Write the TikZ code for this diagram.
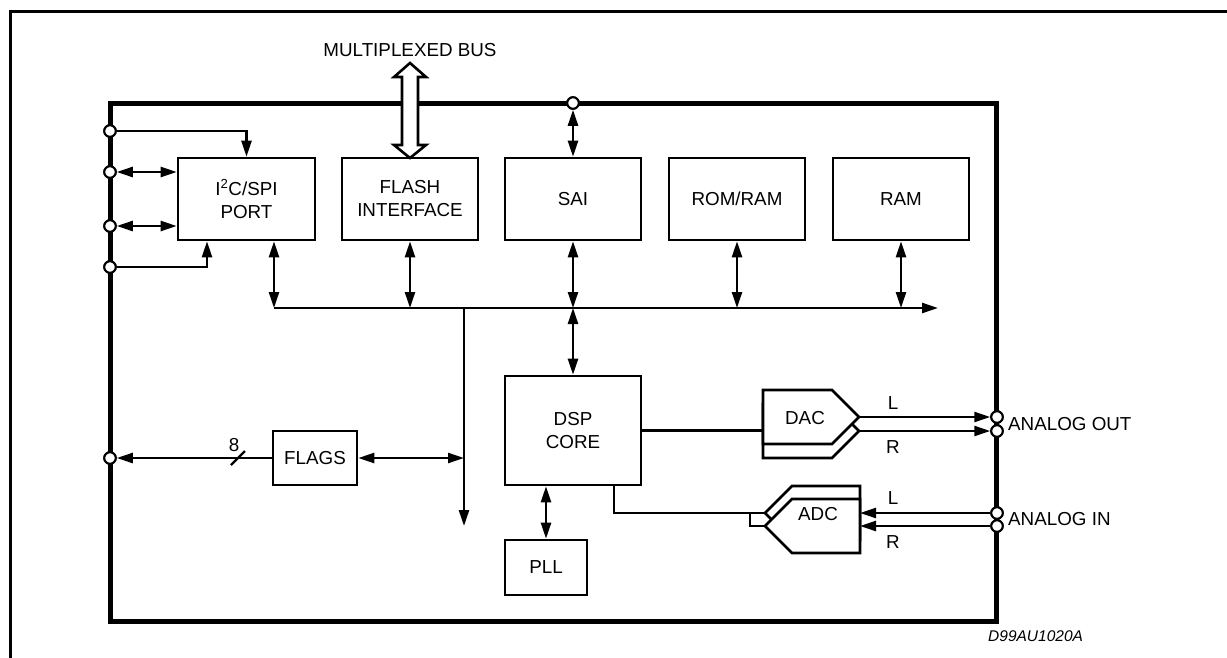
\documentclass[tikz,border=0pt]{standalone}
\usepackage{fontspec}
\setmainfont{Liberation Sans}
\usetikzlibrary{arrows.meta,calc}
\begin{document}
\begin{tikzpicture}[x=1pt,y=-1pt, line join=miter,
  >={Triangle[length=16pt,width=10pt]},
  conn/.style={line width=2.4pt},
  blk/.style={draw, line width=2.6pt, fill=white, align=center, inner sep=0pt, font=\fontsize{18.8}{23}\selectfont},
  shp/.style={draw, line width=2.6pt, fill=white},
  pin/.style={circle, draw, fill=white, line width=2pt, inner sep=0pt, minimum size=11.5pt},
  lbl/.style={font=\fontsize{18.8}{23}\selectfont, inner sep=0pt}]
\useasboundingbox (0,0) rectangle (1227,657);
\clip (0,0) rectangle (1227,657);
% outer frame
\draw[line width=3pt] (10,700) -- (10,11) -- (1300,11);
% chip
\draw[line width=5pt] (110,103) rectangle (996,621);

% blocks
\node[blk, minimum width=137pt, minimum height=82pt] (i2c) at (246.5,199) {I\textsuperscript{2}C/SPI\\PORT};
\node[blk, minimum width=136pt, minimum height=82pt] (flash) at (410,199) {FLASH\\INTERFACE};
\node[blk, minimum width=136pt, minimum height=82pt] (sai) at (573,199) {SAI};
\node[blk, minimum width=136pt, minimum height=82pt] (romram) at (737,199) {ROM/RAM};
\node[blk, minimum width=136pt, minimum height=82pt] (ram) at (901,199) {RAM};
\node[blk, minimum width=136pt, minimum height=109pt] (dsp) at (573,430.5) {DSP\\CORE};
\node[blk, minimum width=82pt, minimum height=55pt] (pll) at (546,567.5) {PLL};
\node[blk, minimum width=84pt, minimum height=54pt] (flags) at (315,458) {FLAGS};

% pins
\node[pin] (p1) at (110,131) {};
\node[pin] (p2) at (110,172) {};
\node[pin] (p3) at (110,226) {};
\node[pin] (p4) at (110,267) {};
\node[pin] (pf) at (110,458) {};
\node[pin] (ps) at (573,103) {};
\node[pin] (aoL) at (997,417) {};
\node[pin] (aoR) at (997,431) {};
\node[pin] (aiL) at (997,513) {};
\node[pin] (aiR) at (997,526) {};

% I2C connections
\draw[conn,->] (p1) -| (i2c.north);
\draw[conn,<->] (p2) -- (p2 -| i2c.west);
\draw[conn,<->] (p3) -- (p3 -| i2c.west);
\draw[conn,->] (p4) -| ([xshift=-39.5pt]i2c.south);

% SAI to top pin
\draw[conn,<->] (ps) -- (sai.north);

% bus
\coordinate (busL) at (274,308);
\coordinate (busR) at (938,308);
\coordinate (busT) at (464,308);
\coordinate (busB) at (464,526);
\draw[conn,->] (busL) -- (busR);
\draw[conn,<->] (busL |- i2c.south) -- (busL);
\draw[conn,<->] (flash.south) -- (flash.south |- busL);
\draw[conn,<->] (sai.south) -- (sai.south |- busL);
\draw[conn,<->] (romram.south) -- (romram.south |- busL);
\draw[conn,<->] (ram.south) -- (ram.south |- busL);
\draw[conn,<->] (dsp.north) -- (dsp.north |- busL);
\draw[conn,->] (busT) -- (busB);

% flags
\draw[conn,<->] (flags.east) -- (flags.east -| busT);
\draw[conn,->] (flags.west) -- (pf);
\draw[conn] (231,465) -- (245,451);
\node[lbl] (eight) at (234,445) {8};

% PLL
\draw[conn,<->] (pll.north |- dsp.south) -- (pll.north);

% DSP to DAC / ADC
\coordinate (dacW) at (763,431);
\draw[conn] (dsp.east) -- (dsp.east -| dacW);
\coordinate (adcJ) at (750,513);
\coordinate (adcBt) at (765,513);
\coordinate (adcFt) at (765,526);
\draw[conn] ([xshift=41pt]dsp.south) |- (adcJ) -- (adcBt);
\draw[conn] (adcJ) |- (adcFt);

% DAC
\draw[shp] (763,404) -- (832,404) -- (859,431) -- (832,458) -- (763,458) -- cycle;
\draw[shp] (763,390) -- (832,390) -- (859,417) -- (832,444) -- (763,444) -- cycle;
\node[lbl] (dactxt) at (805,418) {DAC};
\coordinate (dacL) at (859,417);
\coordinate (dacR) at (859,431);
\draw[conn,->] (dacL) -- (aoL);
\draw[conn,->] (dacR) -- (aoR);
\node[lbl] (dl) at (893,403) {L};
\node[lbl] (dr) at (893,447) {R};

% ADC
\draw[shp] (860,486) -- (792,486) -- (765,513) -- (792,540) -- (860,540) -- cycle;
\draw[shp] (860,499) -- (792,499) -- (765,526) -- (792,553) -- (860,553) -- cycle;
\node[lbl] (adctxt) at (818,514) {ADC};
\coordinate (adcL) at (860,513);
\coordinate (adcR) at (860,526);
\draw[conn,->] (aiL) -- (adcL);
\draw[conn,->] (aiR) -- (adcR);
\node[lbl] (al) at (893,498) {L};
\node[lbl] (ar) at (893,542) {R};

% redraw pins on top
\foreach \p in {p1,p2,p3,p4,pf,ps,aoL,aoR,aiL,aiR}{
  \node[pin] at (\p) {};
}

% multiplexed bus arrow
\draw[line width=2.6pt, fill=white] (410,63) -- (426,77) -- (418,77) -- (418,145) -- (426,145) -- (410,158) -- (394,145) -- (402,145) -- (402,77) -- (394,77) -- cycle;
\node[lbl, anchor=base] (mux) at (410,56) {MULTIPLEXED BUS};

% labels
\node[lbl, anchor=west] (aout) at (1008,424) {ANALOG OUT};
\node[lbl, anchor=west] (ain) at (1008,519) {ANALOG IN};
\node[inner sep=0pt, anchor=base west, font=\fontsize{15.5}{18}\selectfont\itshape] (code) at (988,641) {D99AU1020A};
\end{tikzpicture}
\end{document}
